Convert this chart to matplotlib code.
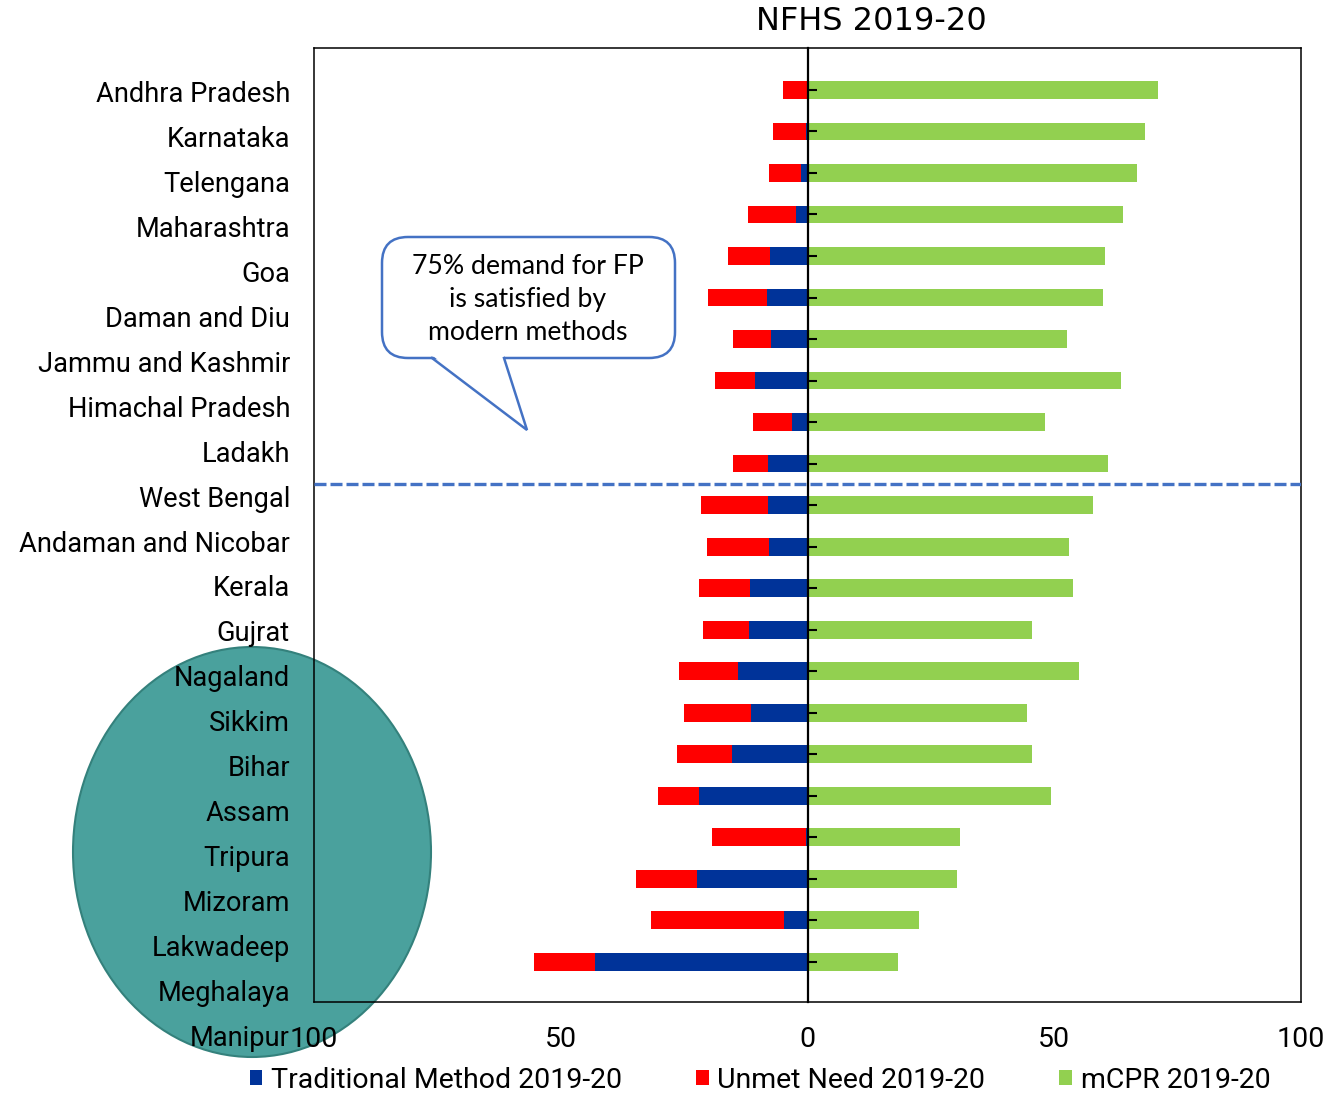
import matplotlib

matplotlib.use("Agg")
import matplotlib.pyplot as plt
import numpy as np
from matplotlib.patches import Ellipse, FancyBboxPatch, Polygon

# NFHS 2019-20: contraceptive use by state (% of currently married women)
states = [
    "Andhra Pradesh", "Karnataka", "Telengana", "Maharashtra", "Goa",
    "Daman and Diu", "Jammu and Kashmir", "Himachal Pradesh", "Ladakh",
    "West Bengal", "Andaman and Nicobar", "Kerala", "Gujrat", "Nagaland",
    "Sikkim", "Bihar", "Assam", "Tripura", "Mizoram", "Lakwadeep",
    "Meghalaya", "Manipur",
]
traditional = [0.0, 0.4, 1.3, 2.3, 7.7, 8.2, 7.3, 10.6, 3.1, 8.0, 8.0,
               7.8, 11.7, 11.9, 14.1, 11.4, 15.3, 22.0, 0.3, 22.4, 4.8, 43.1]
unmet_need = [5.0, 6.6, 6.5, 9.8, 8.4, 12.0, 7.8, 8.1, 7.9, 7.1, 13.6,
              12.6, 10.3, 9.3, 11.9, 13.6, 11.1, 8.3, 19.1, 12.4, 26.9, 12.3]
mcpr = [71.0, 68.4, 66.8, 63.9, 60.3, 59.9, 52.6, 63.5, 48.1, 60.9, 57.9,
        53.0, 53.8, 45.5, 55.0, 44.5, 45.5, 49.3, 30.9, 30.3, 22.6, 18.3]
x_ticks = [-100, -50, 0, 50, 100]
x_tick_labels = ["100", "50", "0", "50", "100"]
series_names = ["Traditional Method 2019-20", "Unmet Need 2019-20", "mCPR 2019-20"]
split_after = "West Bengal"
callout_text = "75% demand for FP\nis satisfied by\nmodern methods"

W, H = 1342, 1095
BLUE = "#003399"
RED = "#ff0000"
GREEN = "#92d050"
DASH = "#4472c4"
TEAL = "#4aa19d"
LABEL_FONT = ["Roboto", "DejaVu Sans"]

fig = plt.figure(figsize=(W / 100, H / 100), dpi=100)

# pixel-space layers under and over the chart
under = fig.add_axes([0, 0, 1, 1], zorder=0)
under.set_xlim(0, W)
under.set_ylim(H, 0)
under.axis("off")
over = fig.add_axes([0, 0, 1, 1], zorder=2)
over.set_xlim(0, W)
over.set_ylim(H, 0)
over.axis("off")
over.patch.set_alpha(0)

under.add_patch(Ellipse((252, 852), 358, 410, facecolor=TEAL, edgecolor="#34817c", linewidth=1.5))

ax = fig.add_axes([314 / W, 1 - 1002 / H, 987 / W, 954 / H], zorder=1)
ax.patch.set_alpha(0)

trad = np.asarray(traditional)
unmet = np.asarray(unmet_need)
green = np.asarray(mcpr)
y = np.arange(len(states))
h = 0.43
b_trad = ax.barh(y, -trad, height=h, color=BLUE, label=series_names[0])
b_unmet = ax.barh(y, -unmet, left=-trad, height=h, color=RED, label=series_names[1])
b_mcpr = ax.barh(y, green, height=h, color=GREEN, label=series_names[2])

split = states.index(split_after) + 0.5
ax.axhline(split, color=DASH, linewidth=2.4, linestyle=(0, (3.6, 1.2)), zorder=3)

ax.set_xlim(-100, 100)
ax.set_ylim(21.97, -1.01)
ax.set_xticks(x_ticks)
ax.set_xticklabels(x_tick_labels, fontsize=20.5, family=LABEL_FONT)
ax.tick_params(axis="x", length=0, pad=17)
ax.set_yticks(y)
ax.set_yticklabels([])
ax.tick_params(axis="y", direction="in", length=6.5, width=1.5, color="black")

# value axis sits at zero; the plot area keeps its own frame
ax.spines["left"].set_position(("data", 0))
ax.spines["left"].set_linewidth(1.6)
for side in ("top", "right", "bottom"):
    ax.spines[side].set_linewidth(1.1)
ax.plot([0, 0], [0, 1], transform=ax.transAxes, color="black", linewidth=1.1, clip_on=False)

fig.text(871 / W, 1 - 22 / H, "NFHS 2019-20", ha="center", va="center",
         fontsize=23, family=["DejaVu Sans"])

# state names run on their own spacing down the left side
for i, name in enumerate(states):
    fig.text(290 / W, 1 - (102 + i * 44.95) / H, name, ha="right", va="baseline",
             fontsize=19.6, family=LABEL_FONT, zorder=4)

# speech-bubble callout
box = FancyBboxPatch((382, 237), 293, 121, boxstyle="round,pad=0,rounding_size=26",
                     facecolor="white", edgecolor=DASH, linewidth=1.8)
over.add_patch(box)
over.add_patch(Polygon([(433, 356), (527, 430), (504, 356)], closed=True,
                       facecolor="white", edgecolor="none"))
over.plot([432, 527, 504], [358, 430, 358], color=DASH, linewidth=1.8, solid_joinstyle="miter")
over.text(528, 300, callout_text, ha="center", va="center", fontsize=19.2,
          family=["Lato", "DejaVu Sans"], linespacing=1.4)

fig.legend(handles=[b_trad, b_unmet, b_mcpr], labels=series_names, loc="center",
           bbox_to_anchor=(760 / W, 1 - 1080 / H), ncol=3, frameon=False,
           prop={"family": LABEL_FONT, "size": 20.5}, handlelength=0.45,
           handleheight=0.45, handletextpad=0.3, columnspacing=2.6, borderpad=0)

fig.savefig("out.png", dpi=100)
